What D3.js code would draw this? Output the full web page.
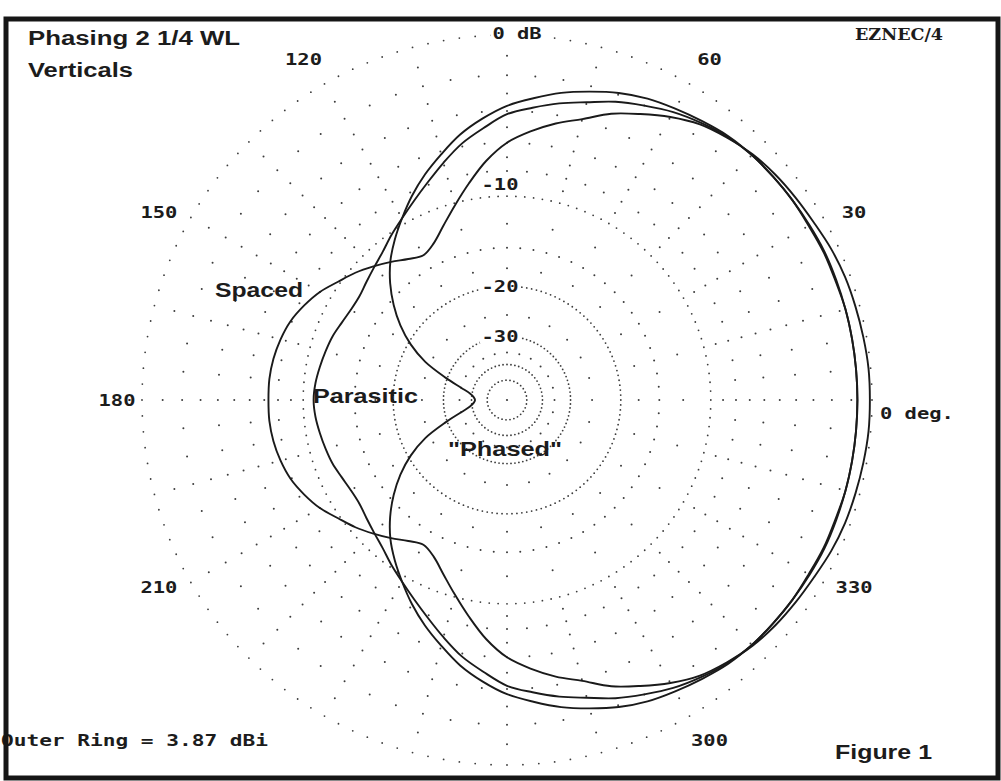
<!DOCTYPE html>
<html>
<head>
<meta charset="utf-8">
<script src="https://cdn.jsdelivr.net/npm/d3@7"></script>
<style>
  html, body { margin: 0; padding: 0; background: #fff; }
  svg { display: block; }
</style>
</head>
<body>
<div id="chart"></div>
<script>
// azimuth of every pattern sample, degrees (0 = right, counter-clockwise)
const azimuths = d3.range(0, 360, 5);

// gain in dB relative to the outer ring (3.87 dBi), one value per azimuth
const spaced = [
  -0.1, -0.1, -0.15, -0.2, -0.25, -0.35, -0.5, -0.6, -0.7, -0.85,
  -1.1, -1.4, -1.9, -2.5, -3.1, -3.9, -4.5, -5.2, -6.0, -7.2,
  -8.7, -10.2, -11.6, -12.8, -13.4, -12.9, -12.1, -11.3, -10.5, -9.8,
  -9.0, -8.4, -7.9, -7.6, -7.4, -7.3, -7.3,
  -7.3, -7.4, -7.6, -7.9, -8.4, -9.0, -9.8, -10.5, -11.3, -12.1,
  -12.9, -13.4, -12.8, -11.6, -10.2, -8.7, -7.2, -6.0, -5.2, -4.5,
  -3.9, -3.1, -2.5, -1.9, -1.4, -1.1, -0.85, -0.7, -0.6, -0.5,
  -0.35, -0.25, -0.2, -0.15, -0.1
];
const parasitic = [
  -0.7, -0.7, -0.7, -0.7, -0.75, -0.75, -0.8, -0.8, -0.85, -0.9,
  -1.05, -1.3, -1.6, -2.0, -2.4, -2.9, -3.3, -3.75, -4.2, -5.0,
  -5.8, -6.8, -7.8, -8.7, -9.5, -10.2, -10.9, -11.4, -11.8, -12.1,
  -12.1, -11.9, -11.6, -11.4, -11.2, -11.0, -10.9,
  -11.0, -11.2, -11.4, -11.6, -11.9, -12.1, -12.1, -11.8, -11.4, -10.9,
  -10.2, -9.5, -8.7, -7.8, -6.8, -5.8, -5.0, -4.2, -3.75, -3.3,
  -2.9, -2.4, -2.0, -1.6, -1.3, -1.05, -0.9, -0.85, -0.8, -0.8,
  -0.75, -0.75, -0.7, -0.7, -0.7
];
const phased = [
  -0.7, -0.7, -0.7, -0.7, -0.7, -0.7, -0.75, -0.8, -0.85, -0.9,
  -1.0, -1.2, -1.4, -1.6, -1.9, -2.3, -2.7, -3.2, -3.7, -4.4,
  -5.2, -6.2, -7.2, -8.3, -9.5, -10.7, -12.0, -13.6, -15.5, -17.7,
  -20.4, -24.0, -29.5, -35.0, -39.0, -41.0, -41.8,
  -41.0, -39.0, -35.0, -29.5, -24.0, -20.4, -17.7, -15.5, -13.6, -12.0,
  -10.7, -9.5, -8.3, -7.2, -6.2, -5.2, -4.4, -3.7, -3.2, -2.7,
  -2.3, -1.9, -1.6, -1.4, -1.2, -1.0, -0.9, -0.85, -0.8, -0.75,
  -0.7, -0.7, -0.7, -0.7, -0.7
];

// grid rings (dB) and labels
const majorRings = [0, -10, -20, -30, -40, -50];
const denseMinorRings = [-2, -4, -6, -8, -15];
const sparseMinorRings = [-1, -3, -5, -7, -9, -12.5, -17.5, -25, -35];
const ringLabels = ["-10", "-20", "-30"];
const angleTicks = [30, 60, 120, 150, 180, 210, 300, 330];

const W = 1001, H = 781;
const cx = 507, cy = 400, R = 365;
const toRad = d => d * Math.PI / 180;

// ARRL log scale: radius shrinks by 0.89 for every 2 dB
const ringScale = d3.scaleLinear().domain([0, 1]).range([0, R]);
const rOf = db => ringScale(Math.pow(0.89, -db / 2));

const svg = d3.select("#chart").append("svg")
  .attr("width", W).attr("height", H);
svg.append("rect").attr("width", W).attr("height", H).attr("fill", "#fff");

const grid = svg.append("g").attr("fill", "#3c3c3c");

majorRings.forEach(db => {
  const r = rOf(db);
  const step = Math.max(toRad(2.5), 4 / r);
  const n = Math.round(2 * Math.PI / step);
  grid.selectAll(null).data(d3.range(n)).enter().append("circle")
    .attr("cx", i => cx + r * Math.cos(i * 2 * Math.PI / n))
    .attr("cy", i => cy - r * Math.sin(i * 2 * Math.PI / n))
    .attr("r", 0.9);
});

function minorDots(db, step) {
  const r = rOf(db);
  grid.selectAll(null).data(d3.range(0, 360, step)).enter().append("circle")
    .attr("cx", a => cx + r * Math.cos(toRad(a)))
    .attr("cy", a => cy - r * Math.sin(toRad(a)))
    .attr("r", 1.0);
}
denseMinorRings.forEach(db => minorDots(db, 5));
sparseMinorRings.forEach(db => minorDots(db, 15));
grid.append("circle").attr("cx", cx).attr("cy", cy).attr("r", 1.1);

// pattern traces
const series = [
  { name: "Spaced", values: spaced },
  { name: "Parasitic", values: parasitic },
  { name: "Phased", values: phased }
];
const radial = d3.lineRadial()
  .angle(d => toRad(90 - d.az))
  .radius(d => rOf(d.db))
  .curve(d3.curveCatmullRomClosed.alpha(0.5));

svg.append("g")
  .attr("transform", `translate(${cx},${cy})`)
  .selectAll("path")
  .data(series)
  .enter().append("path")
  .attr("d", s => radial(azimuths.map((az, i) => ({ az: az, db: s.values[i] }))))
  .attr("fill", "none")
  .attr("stroke", "#1a1a1a")
  .attr("stroke-width", 1.9)
  .attr("stroke-linejoin", "round");

// text helpers
const MONO = "'DejaVu Sans Mono', monospace";
const SANS = "'Liberation Sans', Arial, sans-serif";

function txt(x, y, str, opt) {
  const t = svg.append("text")
    .attr("x", x).attr("y", y)
    .attr("font-family", opt.family || MONO)
    .attr("font-weight", "bold")
    .attr("font-size", opt.size || 16)
    .attr("fill", opt.fill || "#1c1c1c")
    .attr("text-anchor", opt.anchor || "start")
    .attr("dominant-baseline", opt.baseline || "auto")
    .text(str);
  if (opt.width) t.attr("textLength", opt.width).attr("lengthAdjust", "spacingAndGlyphs");
  return t;
}
const charW = 12.3;

// angle labels round the outside
angleTicks.forEach(a => {
  const s = Math.sin(toRad(a)), c = Math.cos(toRad(a));
  let x = cx + 395 * c, y = cy - 395 * s;
  if (Math.abs(s) > 0.1) {
    y += (s > 0 ? 1 : -1) * (Math.abs(c) > 0.7 ? 10 : 2);
    x += (c > 0 ? 5 : -6);
  } else {
    x += 5;
  }
  const str = String(a);
  txt(x, y, str, { anchor: "middle", baseline: "central", width: str.length * charW });
});
txt(cx + 373, cy + 13, "0 deg.", { baseline: "central", width: 6 * charW });

// dB labels on the rings, with white patches hiding the dots
function ringText(str, x, y) {
  const w = str.length * charW;
  svg.append("rect").attr("x", x - w / 2 - 2).attr("y", y - 7).attr("width", w + 4).attr("height", 14).attr("fill", "#fff");
  txt(x, y, str, { anchor: "middle", baseline: "central", width: w });
}
ringText("0 dB", cx + 10, cy - R - 2);
ringLabels.forEach(l => {
  const db = +l;
  const top = cy - rOf(db);
  ringText(l, cx - 7, db === -10 ? top - 12 : top);
});

txt(855, 34, "EZNEC/4", { family: "'DejaVu Serif', serif", size: 17, baseline: "central", width: 88 });
txt(1, 740, "Outer Ring = 3.87 dBi", { baseline: "central", width: 267 });

txt(28, 45, "Phasing 2 1/4 WL", { family: SANS, size: 20, width: 212 });
txt(28, 77, "Verticals", { family: SANS, size: 20, width: 105 });
txt(215, 297, "Spaced", { family: SANS, size: 21, width: 88 });
txt(313, 403, "Parasitic", { family: SANS, size: 21, width: 105 });
txt(448, 456, "\"Phased\"", { family: SANS, size: 21, width: 114 });
txt(835, 759, "Figure 1", { family: SANS, size: 21, width: 97 });

// frame
svg.append("rect")
  .attr("x", 6).attr("y", 19)
  .attr("width", 992).attr("height", 759)
  .attr("fill", "none")
  .attr("stroke", "#161616")
  .attr("stroke-width", 5);
</script>
</body>
</html>
